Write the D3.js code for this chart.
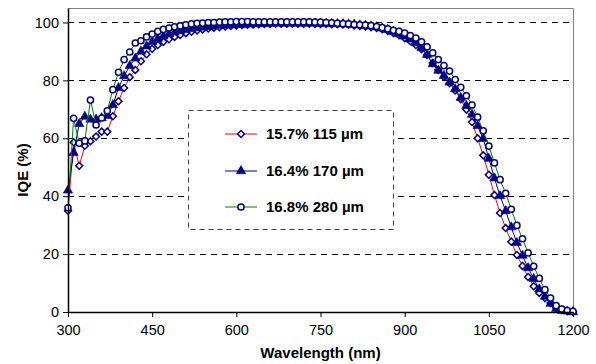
<!DOCTYPE html>
<html>
<head>
<meta charset="utf-8">
<script src="https://cdn.jsdelivr.net/npm/d3@7"></script>
<style>
    html, body { margin: 0; padding: 0; background: #fff; }
    svg { display: block; font-family: 'Liberation Sans', Arial, sans-serif; }
    .tick text { font-size: 14.5px; fill: #000; }
    .axis-title { font-size: 15px; font-weight: bold; }
    .legend-label { font-size: 15px; font-weight: bold; }
</style>
</head>
<body>
<div class="chart"></div>
<script>
// wavelength (nm), one point every 10 nm
const wavelengths = [
    300, 310, 320, 330, 340, 350, 360, 370, 380, 390,
    400, 410, 420, 430, 440, 450, 460, 470, 480, 490,
    500, 510, 520, 530, 540, 550, 560, 570, 580, 590,
    600, 610, 620, 630, 640, 650, 660, 670, 680, 690,
    700, 710, 720, 730, 740, 750, 760, 770, 780, 790,
    800, 810, 820, 830, 840, 850, 860, 870, 880, 890,
    900, 910, 920, 930, 940, 950, 960, 970, 980, 990,
    1000, 1010, 1020, 1030, 1040, 1050, 1060, 1070, 1080, 1090,
    1100, 1110, 1120, 1130, 1140, 1150, 1160, 1170, 1180, 1190,
    1200
];

// IQE (%) per cell
const iqe115 = [
    35, 58.6, 50.5, 57.4, 59, 60.6, 62.3, 62.3, 67.6, 72.8,
    77.4, 81.1, 83.6, 86.6, 89, 90.9, 92.2, 93.3, 94.2, 95,
    95.7, 96.3, 96.8, 97.2, 97.6, 97.9, 98.2, 98.4, 98.6, 98.8,
    99, 99.1, 99.2, 99.3, 99.4, 99.5, 99.5, 99.6, 99.6, 99.6,
    99.6, 99.6, 99.6, 99.6, 99.5, 99.5, 99.5, 99.4, 99.4, 99.3,
    99.2, 99.0, 98.8, 98.6, 98.4, 98.1, 97.7, 97.1, 96.4, 95.6,
    94.6, 93.5, 92.2, 90.8, 88.8, 86, 83.6, 81.2, 79, 76.5,
    73.5, 69.9, 65.6, 60, 54.1, 47.4, 40.4, 34.2, 29, 24.3,
    19.7, 15.9, 12.1, 8.9, 6.6, 4.8, 3.1, 1.5, 0.7, 0.3,
    0.1
];
const iqe170 = [
    42, 55, 65, 67.5, 66.5, 66.5, 67, 67.8, 71.5, 77.4,
    81.5, 85, 87.6, 90, 91.8, 93.3, 94.4, 95.3, 96, 96.6,
    97.1, 97.5, 97.8, 98.1, 98.3, 98.5, 98.7, 98.9, 99, 99.1,
    99.2, 99.3, 99.4, 99.5, 99.5, 99.6, 99.6, 99.7, 99.7, 99.7,
    99.7, 99.7, 99.7, 99.7, 99.7, 99.6, 99.6, 99.6, 99.5, 99.5,
    99.4, 99.3, 99.1, 98.9, 98.7, 98.4, 98, 97.5, 96.8, 96,
    95.2, 94.2, 92.9, 91.2, 88.8, 85.6, 83.4, 81.6, 79.3, 77,
    74, 71.2, 68.2, 64.3, 59.8, 53, 46.2, 40.1, 34.9, 29.3,
    23.9, 19.5, 15.2, 11.5, 7.9, 5.3, 2.9, 1.1, 0.4, 0.2,
    0
];
const iqe280 = [
    36, 66.9, 58.3, 59.1, 73.2, 64.6, 67, 69.5, 76.8, 82.8,
    87.2, 89.8, 92.9, 93.7, 95, 96, 96.9, 97.6, 98.1, 98.5,
    98.8, 99.2, 99.5, 99.7, 99.8, 100, 100, 100.1, 100.2, 100.2,
    100.3, 100.3, 100.3, 100.2, 100.2, 100.2, 100.2, 100.2, 100.2, 100.2,
    100.2, 100.2, 100.2, 100.2, 100.1, 100.1, 100, 99.9, 99.7, 99.6,
    99.5, 99.3, 99.2, 99.1, 98.9, 98.6, 98.2, 97.8, 97.3, 96.9,
    96.3, 95.5, 94.6, 93.3, 91.6, 89.5, 87.2, 85.1, 83.2, 80.3,
    77.6, 74.7, 71.5, 67.3, 62.6, 57.3, 51.5, 45.7, 41, 35.5,
    29.9, 25.3, 20.4, 15.8, 11.6, 7.7, 4.8, 2.2, 1, 0.5,
    0.2
];

const seriesLabels = ['15.7% 115 \u00b5m', '16.4% 170 \u00b5m', '16.8% 280 \u00b5m'];
const xTicks = [300, 450, 600, 750, 900, 1050, 1200];
const yTicks = [0, 20, 40, 60, 80, 100];

const width = 596;
const height = 364;
const plot = { left: 68, right: 573, top: 8, bottom: 312 };

const navy = '#000080';
const series = [
    { label: seriesLabels[0], values: iqe115, line: '#ff0000', marker: 'diamond' },
    { label: seriesLabels[1], values: iqe170, line: navy, marker: 'triangle' },
    { label: seriesLabels[2], values: iqe280, line: '#008000', marker: 'circle' }
];

const x = d3.scaleLinear().domain([300, 1200]).range([plot.left, plot.right]);
const y = d3.scaleLinear().domain([0, 105]).range([plot.bottom, plot.top]);

const svg = d3.select('.chart').append('svg')
    .attr('width', width)
    .attr('height', height);

// gridlines
svg.append('g').attr('class', 'grid')
    .selectAll('line')
    .data(yTicks.filter((t) => t > 0))
    .join('line')
    .attr('x1', plot.left)
    .attr('x2', plot.right)
    .attr('y1', (d) => Math.round(y(d)) + 0.5)
    .attr('y2', (d) => Math.round(y(d)) + 0.5)
    .attr('stroke', '#000')
    .attr('stroke-width', 1)
    .attr('stroke-dasharray', '6,5');

// frame (top + right)
svg.append('path')
    .attr('d', `M${plot.left},${plot.top + 0.5}H${plot.right + 0.5}V${plot.bottom}`)
    .attr('fill', 'none')
    .attr('stroke', '#808080')
    .attr('stroke-width', 1);

// legend box sits under the data
const legend = svg.append('g').attr('class', 'legend');
legend.append('rect')
    .attr('x', 188.5)
    .attr('y', 110.5)
    .attr('width', 205)
    .attr('height', 119)
    .attr('fill', '#fff')
    .attr('stroke', '#404040')
    .attr('stroke-width', 1)
    .attr('stroke-dasharray', '5,4');

function markerPath(kind) {
    if (kind === 'triangle') { return d3.symbol(d3.symbolTriangle, 38)(); }
    if (kind === 'diamond') { return d3.symbol(d3.symbolSquare, 24)(); }
    return d3.symbol(d3.symbolCircle, 30)();
}

function drawMarker(sel, kind) {
    sel.append('path')
        .attr('d', markerPath(kind))
        .attr('transform', kind === 'diamond' ? 'rotate(45)' : null)
        .attr('fill', kind === 'triangle' ? navy : '#fff')
        .attr('stroke', navy)
        .attr('stroke-width', kind === 'triangle' ? 0.6 : 1.5);
}

const line = d3.line()
    .x((d) => x(d[0]))
    .y((d) => y(d[1]));

series.forEach((s) => {
    const pts = wavelengths.map((w, i) => [w, s.values[i]]);
    const g = svg.append('g').attr('class', 'series');
    g.append('path')
        .datum(pts)
        .attr('d', line)
        .attr('fill', 'none')
        .attr('stroke', s.line)
        .attr('stroke-width', 1);
    g.selectAll('g.pt')
        .data(pts)
        .join('g')
        .attr('class', 'pt')
        .attr('transform', (d) => `translate(${x(d[0])},${y(d[1])})`)
        .each(function () { drawMarker(d3.select(this), s.marker); });
});

// legend entries
const legendRows = [134, 171, 207];
series.forEach((s, i) => {
    const le = legend.append('g')
        .attr('transform', `translate(0,${legendRows[i]})`);
    le.append('line')
        .attr('x1', 225).attr('x2', 257)
        .attr('y1', 0).attr('y2', 0)
        .attr('stroke', s.line)
        .attr('stroke-width', 1);
    const m = le.append('g').attr('transform', 'translate(241,0)');
    drawMarker(m, s.marker);
    le.append('text')
        .attr('class', 'legend-label')
        .attr('x', 266)
        .attr('y', 5)
        .text(s.label);
});

// axes
svg.append('g')
    .attr('class', 'axis y-axis')
    .attr('transform', `translate(${plot.left},0)`)
    .call(d3.axisLeft(y).tickValues(yTicks).tickSize(5).tickSizeOuter(0).tickPadding(4));
svg.append('g')
    .attr('class', 'axis x-axis')
    .attr('transform', `translate(0,${plot.bottom})`)
    .call(d3.axisBottom(x).tickValues(xTicks).tickFormat(d3.format('d'))
        .tickSize(5).tickSizeOuter(0).tickPadding(8));
svg.selectAll('.axis .domain').attr('stroke', '#000').attr('stroke-width', 1.5);
svg.selectAll('.axis .tick line').attr('stroke', '#000');

svg.append('text')
    .attr('class', 'axis-title')
    .attr('x', (plot.left + plot.right) / 2)
    .attr('y', 358)
    .attr('text-anchor', 'middle')
    .text('Wavelength (nm)');

svg.append('text')
    .attr('class', 'axis-title')
    .attr('transform', `translate(28,${(plot.top + plot.bottom) / 2 + 10}) rotate(-90)`)
    .attr('text-anchor', 'middle')
    .text('IQE (%)');
</script>
</body>
</html>
